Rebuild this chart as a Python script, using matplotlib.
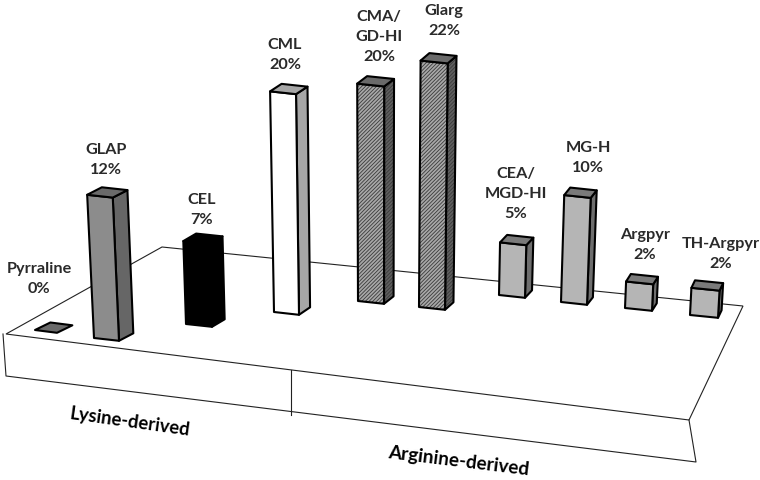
import matplotlib
matplotlib.use("Agg")
import matplotlib.pyplot as plt
from matplotlib.patches import Polygon

plt.rcParams["font.family"] = ["Lato", "DejaVu Sans"]
plt.rcParams["hatch.linewidth"] = 0.6

names = ["Pyrraline", "GLAP", "CEL", "CML", "CMA/\nGD-HI", "Glarg",
         "CEA/\nMGD-HI", "MG-H", "Argpyr", "TH-Argpyr"]
values = [0, 11.7, 7.1, 19.7, 20.2, 22.4, 5.0, 9.9, 2.4, 2.4]

# where each bar stands on the platform, in picture pixels
base_x = [35, 94, 186, 274, 358, 419, 499, 561, 625, 690]
base_y = [330, 338, 324, 312, 301, 307, 295, 302, 308, 315]
base_w = [22, 25, 26, 25, 26, 26, 26, 26, 27, 28]

label_x = [39, 106, 202, 285, 379, 444, 516, 588, 645, 721]
label_y = [279, 160, 210, 55, 37, 21, 194, 158, 245, 254]

front_col = ["#6a6a6a", "#8c8c8c", "#000000", "#ffffff", "#a8a8a8", "#a8a8a8",
             "#b5b5b5", "#b5b5b5", "#b5b5b5", "#b5b5b5"]
side_col = ["#6a6a6a", "#666666", "#000000", "#a6a6a6", "#5f5f5f", "#5f5f5f",
            "#6e6e6e", "#6e6e6e", "#6e6e6e", "#6e6e6e"]
top_col = ["#6a6a6a", "#6a6a6a", "#000000", "#a6a6a6", "#6a6a6a", "#6a6a6a",
           "#7a7a7a", "#7a7a7a", "#7a7a7a", "#7a7a7a"]
hatched = [False, False, False, False, True, True, False, False, False, False]

platform_top = [(6, 334), (162, 247), (743, 306), (689, 420)]
platform_front = [(3, 334), (6, 376), (696, 462), (689, 420)]
divider = [(291, 370), (291, 415)]


def px_per_pct(y):
    # nearer bars are drawn a little taller
    return 11 + (y - 307) * 0.04


def raise_pt(x, y, h):
    # verticals lean away from the vanishing point
    return (x + (x - 380) / 6000 * h, y - h)


def face(ax, pts, color, hatch=None, z=3):
    if hatch:
        ax.add_patch(Polygon(pts, closed=True, facecolor=color, edgecolor="#3a3a3a",
                             hatch=hatch, linewidth=0, zorder=z))
        color = "none"
    ax.add_patch(Polygon(pts, closed=True, facecolor=color, edgecolor="black",
                         linewidth=1.5, joinstyle="round", zorder=z))


fig = plt.figure(figsize=(7.6, 4.8), dpi=100)
ax = fig.add_axes([0, 0, 1, 1])
ax.set_xlim(0, 760)
ax.set_ylim(480, 0)
ax.axis("off")

ax.add_patch(Polygon(platform_top, closed=True, facecolor="white", edgecolor="#222222",
                     linewidth=0.8, zorder=1))
ax.plot([p[0] for p in platform_front], [p[1] for p in platform_front],
        color="#222222", lw=0.8, zorder=1)
ax.plot([p[0] for p in divider], [p[1] for p in divider], color="#222222", lw=0.8, zorder=1)

for i, v in enumerate(values):
    x, y = base_x[i], base_y[i]
    w = base_w[i]
    h = v * px_per_pct(y)
    dx = 16 - x * 0.018
    dy = -7.5
    p1 = (x, y)
    p2 = (x + w, y + 2.8)
    p3 = (x + w + dx, y + 2.8 + dy)
    p4 = (x + dx, y + dy)
    t1, t2, t3, t4 = [raise_pt(p[0], p[1], h) for p in (p1, p2, p3, p4)]
    z = 3 + i
    hatch = "/////////" if hatched[i] else None
    if v > 0:
        face(ax, [p2, p3, t3, t2], side_col[i], hatch, z)
        face(ax, [p1, p2, t2, t1], front_col[i], hatch, z)
    face(ax, [t1, t2, t3, t4], top_col[i], None, z)

    ax.text(label_x[i], label_y[i], f"{names[i]}\n{round(v)}%", ha="center", va="center",
            fontsize=11.7, fontweight="bold", color="#2a2a2a", linespacing=1.52, zorder=20)

ax.text(130, 422, "Lysine-derived", rotation=-8, ha="center", va="center",
        fontsize=13.3, fontweight="bold", color="black", rotation_mode="anchor")
ax.text(459, 461, "Arginine-derived", rotation=-7, ha="center", va="center",
        fontsize=13.6, fontweight="bold", color="black", rotation_mode="anchor")

fig.savefig("out.png", dpi=100, facecolor="white")
